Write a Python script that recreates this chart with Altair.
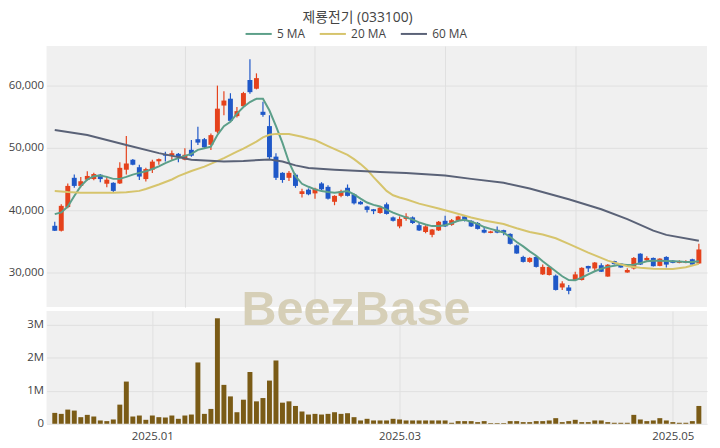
import altair as alt
import pandas as pd

title_text = "제룡전기 (033100)"

opens = [37500, 36700, 40500, 45200, 43900, 44900, 45000, 45700, 44250, 44400,
         44300, 46500, 48100, 46900, 45000, 46500, 47850, 49000, 48800, 49050,
         48100, 49700, 51400, 51400, 50500, 52600, 56800, 57900, 55100, 56700,
         60900, 59500, 55800, 53500, 48600, 46000, 45200, 45700, 42600, 43300,
         42700, 44300, 43750, 41350, 42300, 43600, 42550, 41350, 40600, 40150,
         39550, 40950, 38850, 37400, 38600, 38850, 37600, 36500, 36050, 36750,
         38300, 37650, 38300, 39000, 38300, 37950, 36850, 36350, 36850, 36800,
         36200, 34350, 32500, 31700, 32500, 29700, 29600, 29500, 27600, 27600,
         28800, 28800, 31050, 30650, 31170, 29350, 31850, 31430, 30000, 30640,
         33020, 31960, 32340, 31060, 32500, 31910, 31550, 31550, 32130, 31450]
highs = [38150, 40960, 44290, 45720, 45350, 46240, 46000, 45800, 45350, 44500,
         47680, 51900, 48200, 47300, 46800, 48100, 48300, 49370, 49580, 49200,
         49950, 51270, 53380, 51600, 52330, 60000, 59100, 58780, 56560, 59000,
         64230, 61970, 57400, 55240, 49160, 46100, 46300, 45900, 43440, 43500,
         43600, 44500, 44000, 42400, 43300, 44130, 42700, 41500, 40700, 40200,
         40500, 41230, 39000, 39000, 39530, 39000, 38000, 37600, 37000, 38250,
         39100, 38600, 39100, 39100, 38400, 38100, 37300, 36700, 37400, 36850,
         36300, 34500, 32700, 32450, 32700, 31270, 31000, 29690, 28600, 28000,
         30120, 30850, 31100, 31700, 31500, 31350, 31900, 31500, 30700, 32500,
         33100, 32600, 32400, 32300, 32600, 32000, 31950, 31950, 32200, 34600]
lows = [36670, 36600, 40300, 43600, 43700, 44760, 44800, 44490, 43700, 42810,
        44200, 45720, 47200, 44830, 44600, 45990, 47300, 47830, 48100, 47680,
        48000, 48600, 50480, 50000, 49680, 52330, 55240, 54200, 54900, 56500,
        58680, 59400, 55000, 48100, 44830, 44400, 44700, 43600, 42020, 42400,
        41850, 43200, 41700, 40800, 42100, 42200, 40900, 40900, 39640, 39370,
        39450, 39300, 38200, 37100, 38310, 37800, 36650, 36300, 35670, 36650,
        37300, 37500, 38200, 38200, 37300, 36900, 36300, 36300, 36300, 36000,
        34500, 33000, 31600, 31550, 30800, 29600, 29500, 27100, 27200, 26510,
        28700, 28700, 30100, 30300, 30100, 29300, 31300, 30750, 29950, 30500,
        31200, 31700, 30950, 31000, 30800, 31500, 31500, 31500, 31200, 31400]
closes = [36700, 40700, 43900, 43900, 44650, 45500, 45800, 45000, 44900, 43100,
          46800, 47500, 47300, 45400, 46600, 47800, 48200, 48750, 49150, 48520,
          48900, 48750, 50850, 50100, 52050, 56300, 57600, 54350, 55900, 58800,
          58950, 61200, 55300, 48500, 45200, 44850, 46000, 43900, 43050, 42550,
          43450, 43350, 41850, 42300, 43050, 42300, 41100, 40950, 40050, 39850,
          40400, 39400, 38300, 38600, 39000, 37950, 36750, 37400, 36900, 38150,
          37400, 38400, 39000, 38300, 37400, 37000, 36400, 36600, 36400, 36400,
          34600, 33050, 31700, 32350, 30900, 30900, 30900, 27200, 28250, 27050,
          29700, 30750, 30650, 31600, 30120, 31250, 31350, 30800, 30400, 32340,
          31270, 32340, 31010, 32230, 31270, 31550, 31850, 31850, 31270, 33700]
volumes = [330000, 300000, 430000, 400000, 200000, 270000, 220000, 100000, 80000, 130000,
           580000, 1280000, 220000, 250000, 120000, 250000, 200000, 190000, 250000, 150000,
           250000, 280000, 1860000, 300000, 450000, 3200000, 1180000, 830000, 350000, 730000,
           1570000, 680000, 780000, 1310000, 1920000, 640000, 680000, 540000, 370000, 280000,
           300000, 280000, 300000, 350000, 300000, 320000, 200000, 100000, 150000, 100000,
           100000, 100000, 150000, 130000, 100000, 100000, 100000, 100000, 100000, 100000,
           100000, 30000, 80000, 80000, 80000, 50000, 80000, 20000, 20000, 20000,
           80000, 80000, 50000, 50000, 80000, 80000, 100000, 170000, 50000, 80000,
           120000, 50000, 50000, 100000, 100000, 50000, 30000, 30000, 30000, 270000,
           130000, 80000, 100000, 170000, 100000, 50000, 30000, 30000, 80000, 540000]

ma5 = [39370, 39640, 40590, 42280, 43860, 44930, 45460, 45560, 45350, 45030,
       45030, 45350, 45720, 45990, 46240, 46620, 47030, 47570, 47990, 48370,
       48730, 49050, 49680, 49950, 50210, 52070, 53490, 54180, 55510, 56560,
       57360, 57890, 57890, 56000, 53500, 50800, 47700, 45460, 44240, 43760,
       43340, 43070, 42910, 42810, 42910, 43070, 42540, 41850, 41230, 40860,
       40600, 40100, 39600, 39200, 38840, 38500, 38050, 37700, 37450, 37450,
       37600, 37900, 38300, 38450, 38150, 37800, 37300, 37000, 36700, 36400,
       35700, 34900, 34200, 33400, 32700, 31800, 31000, 30200, 29400, 28800,
       28750, 29200, 29700, 30200, 30600, 30900, 31100, 31300, 31200, 31250,
       31500, 31800, 31900, 31900, 31850, 31800, 31750, 31700, 31700, 31800]
ma20_idx = [0, 2, 4, 6, 9, 11, 13, 14, 16, 18, 19, 21, 23, 26, 28, 29, 31, 32, 33, 34,
            36, 38, 39, 40, 42, 45, 46, 47, 48, 49, 50, 51, 52, 53, 54, 56, 59, 61, 64, 66,
            69, 71, 73, 75, 77, 79, 82, 85, 88, 90, 92, 95, 97, 99]
ma20_val = [43070, 42910, 42800, 42800, 42800, 42900, 43100, 43400, 44130, 44930, 45460, 46300,
            47000, 48370, 49400, 49900, 51000, 51700, 52100, 52250, 52220, 51800, 51500, 51270,
            50300, 48890, 48200, 47400, 46500, 45300, 44200, 43100, 42400, 42050, 41750, 41050,
            40270, 39700, 38840, 38350, 37780, 37100, 36500, 36100, 35500, 34600, 33200, 31900,
            31000, 30750, 30620, 30550, 30850, 31400]
ma60_idx = [0, 5, 11, 16, 21, 26, 29, 33, 35, 37, 39, 43, 47, 50, 54, 60, 64, 69, 73, 79,
            84, 88, 92, 94, 99]
ma60_val = [52860, 52060, 50480, 49160, 48100, 47830, 47900, 48150, 47830, 47200, 46780,
            46500, 46300, 46140, 45990, 45560, 45030, 44400, 43490, 41750, 40160, 38580,
            36720, 36040, 35100]

ma_names = ["5 MA", "20 MA", "60 MA"]
ma_colors = ["#5c9f89", "#d6c46c", "#5a6277"]

price_ticks = [30000, 40000, 50000, 60000]
volume_ticks = [0, 1000000, 2000000, 3000000]
grid_idx = [20, 40, 60, 80]
tick_idx = [15, 53, 95]
tick_labels = ["2025.01", "2025.03", "2025.05"]

RED = "#e5421c"
BLUE = "#1f58c8"
VOL = "#7a5b16"
FONT = "Open Sans, Noto Sans CJK KR, sans-serif"

n = len(closes)
df = pd.DataFrame({"idx": list(range(n)), "open": opens, "high": highs, "low": lows,
                   "close": closes, "volume": volumes})

rows = []
for i, v in enumerate(ma5):
    rows.append({"idx": i, "val": v, "ma": ma_names[0]})
for i, v in zip(ma20_idx, ma20_val):
    rows.append({"idx": i, "val": v, "ma": ma_names[1]})
for i, v in zip(ma60_idx, ma60_val):
    rows.append({"idx": i, "val": v, "ma": ma_names[2]})
ma_df = pd.DataFrame(rows)

x_scale = alt.Scale(domain=[-0.5, n - 0.5], nice=False, zero=False)
x_top = alt.X("idx:Q", scale=x_scale, title=None,
              axis=alt.Axis(values=grid_idx, labels=False, ticks=False, domain=False, grid=True))

label_expr = ""
for i, lab in zip(tick_idx, tick_labels):
    label_expr += f"datum.value == {i} ? '{lab}' : "
label_expr += "''"
x_bot = alt.X("idx:Q", scale=x_scale, title=None,
              axis=alt.Axis(values=tick_idx, labelExpr=label_expr, ticks=False, domain=False,
                            grid=True, labelPadding=7))

y_scale = alt.Scale(domain=[24450, 66350], nice=False, zero=False)
y_axis = alt.Axis(values=price_ticks, labelExpr="format(datum.value, ',')", ticks=False,
                  domain=False, labelPadding=3, minExtent=38, maxExtent=38)

candle_color = alt.condition("datum.close >= datum.open", alt.value(RED), alt.value(BLUE))

wicks = alt.Chart(df).mark_rule(strokeWidth=1.2).encode(
    x=x_top, y=alt.Y("low:Q", scale=y_scale, axis=y_axis, title=None),
    y2="high:Q", color=candle_color)
bodies = alt.Chart(df).mark_bar(size=5).encode(
    x=x_top, y=alt.Y("open:Q", scale=y_scale, axis=y_axis, title=None),
    y2="close:Q", color=candle_color)
lines = alt.Chart(ma_df).mark_line(strokeWidth=2).encode(
    x=x_top, y=alt.Y("val:Q", scale=y_scale, axis=y_axis, title=None),
    color=alt.Color("ma:N", scale=alt.Scale(domain=ma_names, range=ma_colors),
                    legend=alt.Legend(orient="none", legendX=200, legendY=-27,
                                      direction="horizontal", title=None,
                                      symbolType="stroke", symbolStrokeWidth=2,
                                      symbolSize=700, labelFontSize=12, labelColor="#444",
                                      labelFont=FONT, columnPadding=10)),
    order="idx:Q")

upper = alt.layer(wicks, bodies, lines).properties(width=668, height=264)

vol_bars = alt.Chart(df).mark_bar(size=5, color=VOL).encode(
    x=x_bot,
    y=alt.Y("volume:Q", scale=alt.Scale(domain=[0, 3420000], nice=False), title=None,
            axis=alt.Axis(values=volume_ticks,
                          labelExpr="datum.value == 0 ? '0' : format(datum.value / 1000000, 'd') + 'M'",
                          ticks=False, domain=False,
                          labelPadding=3, minExtent=38, maxExtent=38)))
watermark = alt.Chart(pd.DataFrame({"t": ["BeezBase"]})).mark_text(
    font="Liberation Sans", fontWeight="bold", fontSize=49, color="#d6cfb7",
    align="center", baseline="alphabetic").encode(
    text="t:N", x=alt.value(313), y=alt.value(14))

lower = alt.layer(vol_bars, watermark).properties(width=668, height=114)

chart = alt.vconcat(upper, lower, spacing=4, bounds="flush").properties(
    title=alt.TitleParams(title_text, fontSize=14, font=FONT, color="#444",
                          fontWeight="normal", anchor="middle", offset=-6),
    padding={"left": 0, "top": 1, "right": 5, "bottom": 0},
).configure_view(fill="#f0f0f0", stroke=None).configure_axis(
    gridColor="#e0e0e0", labelFont=FONT, labelColor="#444", labelFontSize=11.5)

chart.save("out.html", embed_options={"renderer": "svg", "actions": False})
